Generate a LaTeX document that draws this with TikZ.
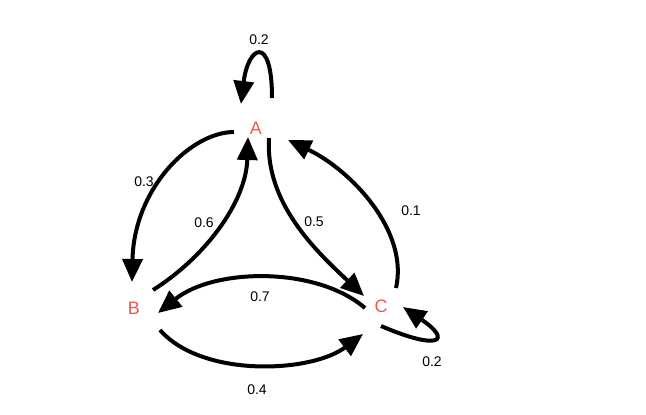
\documentclass[tikz,border=0pt]{standalone}
\usepackage{fontspec}
\setmainfont{Liberation Sans}
\usetikzlibrary{arrows.meta}
\definecolor{nodered}{RGB}{236,88,76}
\tikzset{
  state/.style={text=nodered, font=\fontsize{18}{20}\selectfont, inner sep=0pt},
  lab/.style={font=\fontsize{14}{16}\selectfont, inner sep=0pt},
  edge/.style={line width=4pt, -{Triangle[length=23pt,width=20pt]}}
}
\begin{document}
\begin{tikzpicture}[x=1pt,y=-1pt]
\useasboundingbox (0,0) rectangle (646,415);
\node[state] (A) at (256,128) {A};
\node[state] (B) at (134,308) {B};
\node[state] (C) at (381,306) {C};

% A self-loop
\draw[edge] ([shift={(16,-30)}]A.center) .. controls ([shift={(16,-95)}]A.center) and ([shift={(-8,-82)}]A.center) .. ([shift={(-15,-24)}]A.center);
% A -> B
\draw[edge] ([shift={(-22,4)}]A.center) .. controls ([shift={(-65,4)}]A.center) and ([shift={(0,-120)}]B.center) .. ([shift={(-2,-26)}]B.center);
% B -> A
\draw[edge] ([shift={(19,-18)}]B.center) .. controls ([shift={(70,-50)}]B.center) and ([shift={(-10,75)}]A.center) .. ([shift={(-8,9)}]A.center);
% A -> C
\draw[edge] ([shift={(13,10)}]A.center) .. controls ([shift={(9,75)}]A.center) and ([shift={(-65,-55)}]C.center) .. ([shift={(-17,-10)}]C.center);
% C -> A
\draw[edge] ([shift={(15,-18)}]C.center) .. controls ([shift={(28,-75)}]C.center) and ([shift={(95,42)}]A.center) .. ([shift={(32,12)}]A.center);
% C -> B
\draw[edge] ([shift={(-16,2)}]C.center) .. controls ([shift={(-65,-40)}]C.center) and ([shift={(80,-40)}]B.center) .. ([shift={(24,5)}]B.center);
% B -> C
\draw[edge] ([shift={(26,22)}]B.center) .. controls ([shift={(68,70)}]B.center) and ([shift={(-70,67)}]C.center) .. ([shift={(-18,28)}]C.center);
% C self-loop
\draw[edge] ([shift={(0,20)}]C.center) .. controls ([shift={(58,45)}]C.center) and ([shift={(72,35)}]C.center) .. ([shift={(22,1)}]C.center);

\node[lab] (l1) at (259,40) {0.2};
\node[lab] (l2) at (144,182) {0.3};
\node[lab] (l3) at (204,223) {0.6};
\node[lab] (l4) at (314,222) {0.5};
\node[lab] (l5) at (411,211) {0.1};
\node[lab] (l6) at (260,297) {0.7};
\node[lab] (l7) at (257,390) {0.4};
\node[lab] (l8) at (432,362) {0.2};
\end{tikzpicture}
\end{document}
